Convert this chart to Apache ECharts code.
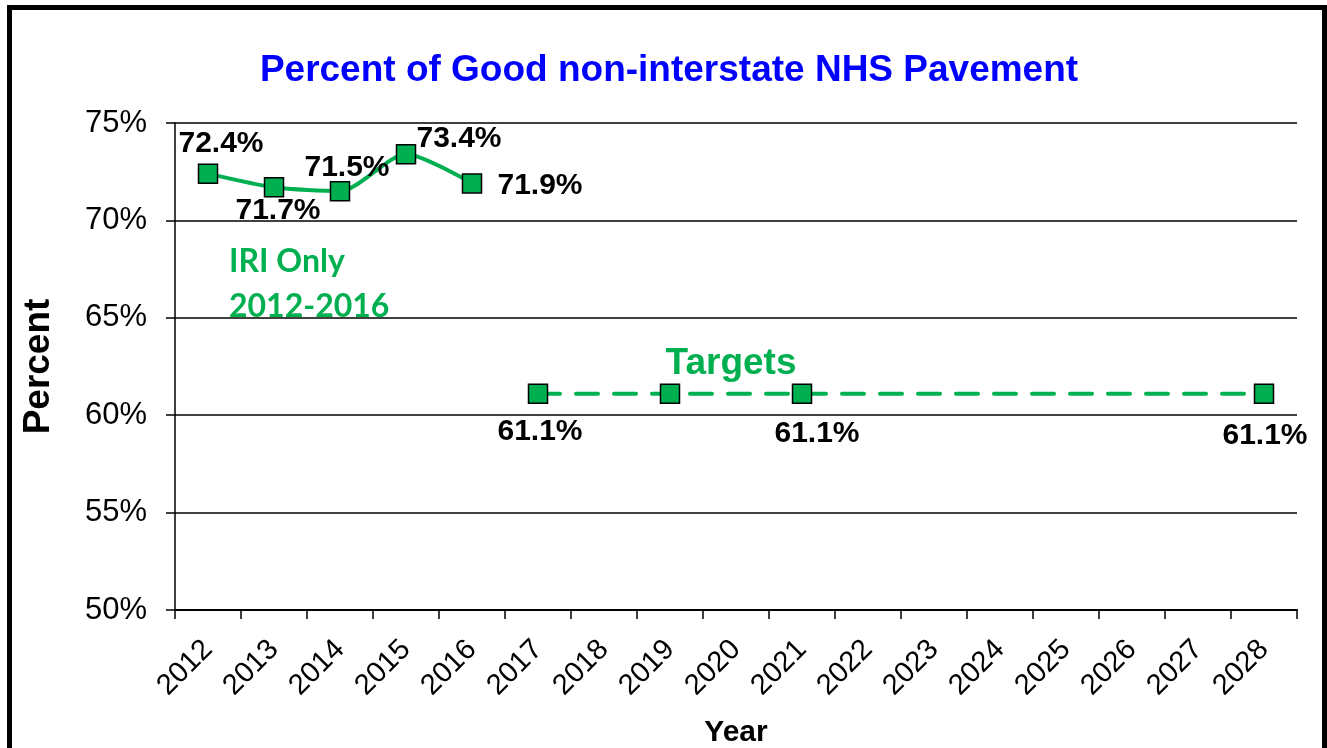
<!DOCTYPE html>
<html>
<head>
<meta charset="utf-8">
<script src="https://cdn.jsdelivr.net/npm/echarts@6/dist/echarts.min.js"></script>
<style>
  html, body { margin: 0; padding: 0; background: #fff; }
  #chart { width: 1327px; height: 748px; }
</style>
</head>
<body>
<div id="chart"></div>
<script>
// data
const years = ['2012', '2013', '2014', '2015', '2016', '2017', '2018', '2019', '2020',
    '2021', '2022', '2023', '2024', '2025', '2026', '2027', '2028'];
const actualYears = ['2012', '2013', '2014', '2015', '2016'];
const actualValues = [72.4, 71.7, 71.5, 73.4, 71.9];
const targetYears = ['2017', '2019', '2021', '2028'];
const targetValues = [61.1, 61.1, 61.1, 61.1];
const yTicks = [50, 55, 60, 65, 70, 75];

// label placement (offset of label centre from the marker), null = no label
const actualLabelOffsets = [[13, -30], [4, 23], [7, -23], [53, -15], [68, 2]];
const targetLabelOffsets = [[2, 38], null, [15, 40], [1, 42]];

const GREEN = '#00B050';
const FONT = '"Liberation Sans", Arial, sans-serif';

const chartDom = document.getElementById('chart');
const myChart = echarts.init(chartDom, null, { renderer: 'canvas' });

const labelBase = {
    show: true,
    position: 'inside',
    align: 'center',
    verticalAlign: 'middle',
    formatter: p => p.value[1].toFixed(1) + '%',
    color: '#000',
    fontFamily: FONT,
    fontWeight: 'bold',
    fontSize: 30
};

function buildData(cats, vals, offsets) {
    return cats.map((c, i) => {
        const off = offsets[i];
        return {
            value: [c, vals[i]],
            label: off ? Object.assign({}, labelBase, { offset: off }) : { show: false }
        };
    });
}

const option = {
    animation: false,
    backgroundColor: '#fff',
    grid: { left: 175, right: 30, top: 123, bottom: 138, outerBoundsMode: 'none' },
    xAxis: {
        type: 'category',
        data: years,
        boundaryGap: true,
        name: 'Year',
        nameLocation: 'middle',
        nameGap: 108,
        nameTextStyle: { color: '#000', fontFamily: FONT, fontWeight: 'bold', fontSize: 30 },
        axisLine: { show: true, lineStyle: { color: '#000', width: 2 } },
        axisTick: { show: true, interval: 0, length: 9, lineStyle: { color: '#000', width: 1.5 } },
        axisLabel: {
            interval: 0,
            rotate: 45,
            margin: 35,
            color: '#000',
            fontFamily: FONT,
            fontSize: 29
        },
        splitLine: { show: false }
    },
    yAxis: {
        type: 'value',
        min: yTicks[0],
        max: yTicks[yTicks.length - 1],
        interval: 5,
        name: 'Percent',
        nameLocation: 'middle',
        nameGap: 118,
        nameTextStyle: { color: '#000', fontFamily: FONT, fontWeight: 'bold', fontSize: 37 },
        axisLine: { show: true, lineStyle: { color: '#000', width: 1.5 } },
        axisTick: { show: true, length: 9, lineStyle: { color: '#000', width: 1.5 } },
        axisLabel: {
            margin: 28,
            color: '#000',
            fontFamily: FONT,
            fontSize: 31,
            formatter: '{value}%'
        },
        splitLine: { show: true, lineStyle: { color: '#000', width: 1.5 } }
    },
    graphic: {
        elements: [
            {
                type: 'rect',
                silent: true,
                shape: { x: 9.5, y: 7.5, width: 1315, height: 800 },
                style: { fill: null, stroke: '#000', lineWidth: 5 }
            },
            {
                type: 'text',
                x: 669,
                y: 71,
                style: {
                    text: 'Percent of Good non-interstate NHS Pavement',
                    textAlign: 'center',
                    textVerticalAlign: 'middle',
                    fill: '#0000FF',
                    fontFamily: FONT,
                    fontWeight: 'bold',
                    fontSize: 37
                }
            },
            {
                type: 'text',
                x: 229,
                y: 262,
                style: {
                    text: 'IRI Only',
                    textAlign: 'left',
                    textVerticalAlign: 'middle',
                    fill: GREEN,
                    fontFamily: 'Lato, sans-serif',
                    fontWeight: 'bold',
                    fontSize: 32
                }
            },
            {
                type: 'text',
                x: 229,
                y: 307,
                style: {
                    text: '2012-2016',
                    textAlign: 'left',
                    textVerticalAlign: 'middle',
                    fill: GREEN,
                    fontFamily: 'Lato, sans-serif',
                    fontWeight: 'bold',
                    fontSize: 32
                }
            },
            {
                type: 'text',
                x: 731,
                y: 364,
                style: {
                    text: 'Targets',
                    textAlign: 'center',
                    textVerticalAlign: 'middle',
                    fill: GREEN,
                    fontFamily: FONT,
                    fontWeight: 'bold',
                    fontSize: 37
                }
            }
        ]
    },
    series: [
        {
            name: 'IRI Only',
            type: 'line',
            data: buildData(actualYears, actualValues, actualLabelOffsets),
            smooth: 0.25,
            symbol: 'rect',
            symbolSize: 19,
            lineStyle: { color: GREEN, width: 4 },
            itemStyle: { color: GREEN, borderColor: '#000', borderWidth: 1.5 },
            z: 3
        },
        {
            name: 'Targets',
            type: 'line',
            data: buildData(targetYears, targetValues, targetLabelOffsets),
            symbol: 'rect',
            symbolSize: 19,
            lineStyle: { color: GREEN, width: 4, type: [22, 16], cap: 'round' },
            itemStyle: { color: GREEN, borderColor: '#000', borderWidth: 1.5 },
            z: 3
        }
    ]
};

myChart.setOption(option);
</script>
</body>
</html>
